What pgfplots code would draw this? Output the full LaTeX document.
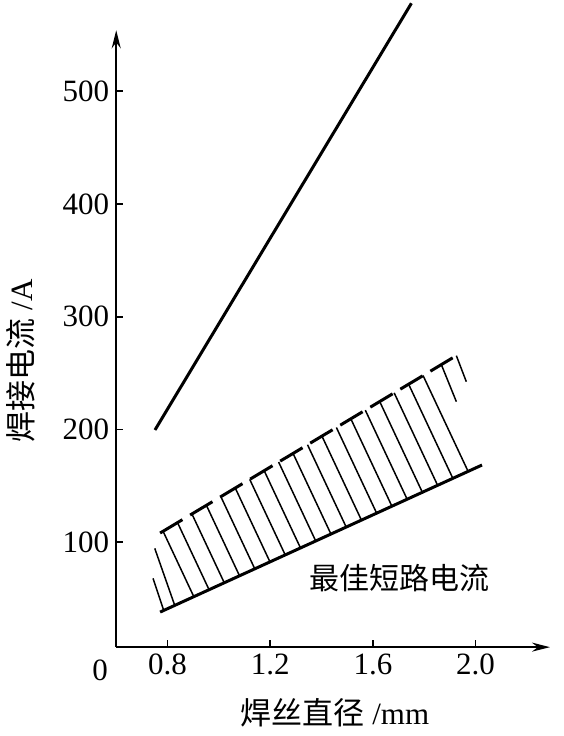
\documentclass[border=0pt]{standalone}
\usepackage{pgfplots}
\pgfplotsset{compat=1.18}
\usepackage{fontspec}
\setmainfont{Liberation Serif}
\newfontfamily\cjk{Noto Sans CJK SC}
\usetikzlibrary{arrows.meta}
\pgfplotstableread{
x y
0.7825 109.8
0.9022 51.8
nan nan
0.8387 117.5
0.9616 58.0
nan nan
0.8950 125.1
1.0209 64.1
nan nan
0.9513 132.8
1.0803 70.3
nan nan
1.0076 140.5
1.1397 76.5
nan nan
1.0638 148.1
1.1990 82.6
nan nan
1.1201 155.8
1.2584 88.8
nan nan
1.1764 163.5
1.3178 95.0
nan nan
1.2326 171.2
1.3771 101.2
nan nan
1.2889 178.8
1.4365 107.3
nan nan
1.3452 186.5
1.4959 113.5
nan nan
1.4014 194.2
1.5552 119.7
nan nan
1.4577 201.8
1.6146 125.8
nan nan
1.5140 209.5
1.6740 132.0
nan nan
1.5703 217.2
1.7333 138.2
nan nan
1.6265 224.8
1.7927 144.3
nan nan
1.6828 232.5
1.8521 150.5
nan nan
1.7391 240.2
1.9114 156.7
nan nan
1.7953 247.9
1.9708 162.9
nan nan
1.8667 257.5
1.9251 224.7
nan nan
1.9251 265.5
1.9639 242.4
nan nan
0.7501 94.6
0.8280 44.0
nan nan
0.7435 68.0
0.7850 39.6
}\hatchdata
\begin{document}
\begin{tikzpicture}
\begin{axis}[
  scale only axis, width=216.9pt, height=308.4pt,
  xmin=0.6, xmax=2.29, ymin=7, ymax=554,
  axis lines=left,
  axis line style={line width=1pt, -{Stealth[length=9pt,width=4.5pt]}},
  xtick={0.8,1.2,1.6,2.0}, xticklabels={0.8,1.2,1.6,2.0},
  ytick={100,200,300,400,500}, yticklabels={100,200,300,400,500},
  tick align=inside, major tick length=3.5pt,
  tick style={line width=0.8pt, black},
  /pgf/number format/assume math mode=true,
  ticklabel style={font=\fontsize{15.5}{18}\selectfont},
  clip=false, unbounded coords=jump,
]
\path (axis cs:0.159,-71.8) rectangle (axis cs:2.341,580.9);
\addplot[black, line width=1.5pt] coordinates {(0.751,199.6) (1.750,578)};
\addplot[black, line width=1.5pt] coordinates {(0.771,38.1) (2.025,168.5)};
\addplot[black, line width=1.5pt, dash pattern=on 13pt off 4.5pt] coordinates {(0.771,108.2) (1.936,267)};
\addplot[black, line width=0.75pt] table {\hatchdata};
\node[font=\fontsize{15.5}{18}\selectfont] at (axis cs:0.537,-13.3) {0};
\node[font=\fontsize{15.5}{18}\selectfont] at (axis cs:1.452,-51.4) {{\cjk 焊丝直径} /mm};
\node[font=\fontsize{15.5}{18}\selectfont, rotate=90] at (axis cs:0.229,261) {{\cjk 焊接电流} /A};
\node[font=\fontsize{15}{18}\selectfont] at (axis cs:1.702,68.3) {\cjk 最佳短路电流};
\end{axis}
\end{tikzpicture}
\end{document}
